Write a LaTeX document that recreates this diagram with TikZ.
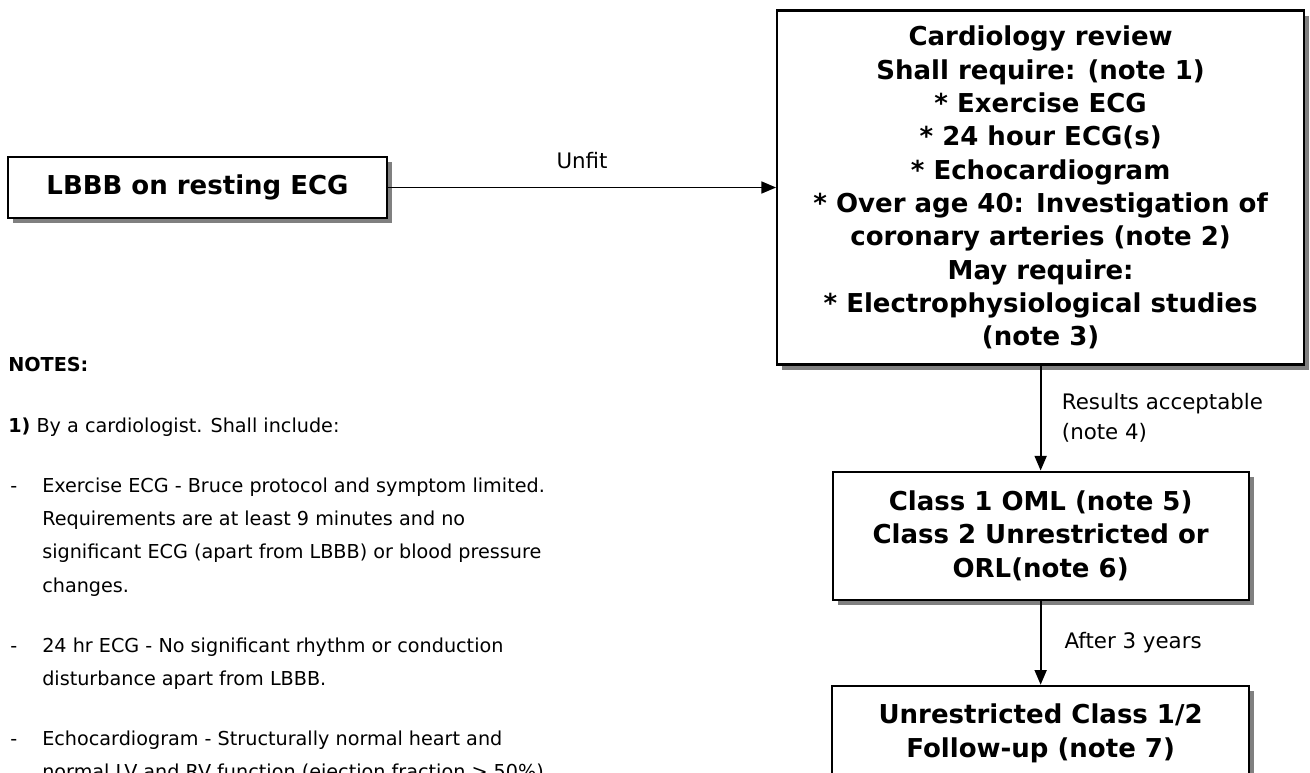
\documentclass[tikz,border=0pt]{standalone}
\usepackage{fontspec}
\setmainfont{DejaVu Sans}
\usetikzlibrary{arrows.meta}
\usetikzlibrary{positioning,shadows}

\newcommand{\boxfont}{\fontsize{19.5pt}{25pt}\selectfont\bfseries}
\newcommand{\notefont}{\fontsize{14.4pt}{24.75pt}\selectfont}
\newcommand{\flowfont}{\fontsize{16pt}{22.5pt}\selectfont}

\tikzset{
  result/.style={draw, line width=1.6pt, fill=white, align=center, font=\boxfont,
    drop shadow={shadow xshift=3.75pt, shadow yshift=-3.75pt, fill=black!50, opacity=1}},
  flow/.style={-{Triangle[length=11pt,width=9pt]}, line width=1.3pt},
  note/.style={anchor=west, inner sep=0pt, font=\notefont, text height=11pt, text depth=3.5pt},
}

\begin{document}
\begin{tikzpicture}[x=0.75pt,y=-0.75pt, every node/.append style={font=\flowfont}]
\clip (0,0) rectangle (1310,772);

\node[result, minimum width=284.25pt, minimum height=45.75pt] (lbbb) at (197.5,187.5) {LBBB on resting ECG};
\node[result, right=291pt of lbbb, minimum width=395.25pt, minimum height=265.5pt] (review) {
  Cardiology review\\
  Shall require: (note 1)\\
  * Exercise ECG\\
  * 24 hour ECG(s)\\
  * Echocardiogram\\
  * Over age 40: Investigation of\\
  coronary arteries (note 2)\\
  May require:\\
  * Electrophysiological studies\\
  (note 3)
};
\node[result, below=78.75pt of review, minimum width=312pt, minimum height=96pt] (class) {
  Class 1 OML (note 5)\\
  Class 2 Unrestricted or\\
  ORL(note 6)
};
\node[result, below=63pt of class, minimum width=312.75pt, minimum height=71.25pt] (unrestricted) {
  Unrestricted Class 1/2\\
  Follow-up (note 7)
};

\draw[flow] (lbbb) -- (review) node[midway, yshift=20pt] (unfit) {Unfit};
\draw[flow] (review) -- (class) node[midway, right=12pt, align=left] (accept) {Results acceptable\\(note 4)};
\draw[flow] (class) -- (unrestricted) node[midway, right=14pt] (after) {After 3 years};

% notes
\node[note, font=\notefont\bfseries] (notes) at (8,366) {NOTES:};
\node[note] (note1) at (8,427) {\textbf{1)} By a cardiologist. Shall include:};
\foreach \ty in {487,647,740}
  \node[note] (dash\ty) at (10,\ty) {-};
\foreach \ty/\tx in {487/Exercise ECG - Bruce protocol and symptom limited.,
    520/Requirements are at least 9 minutes and no,
    553/significant ECG (apart from LBBB) or blood pressure,
    587/changes.,
    647/24 hr ECG - No significant rhythm or conduction,
    680/disturbance apart from LBBB.,
    740/Echocardiogram - Structurally normal heart and,
    773/normal LV and RV function (ejection fraction > 50\%)}
  \node[note] (line\ty) at (42,\ty) {\tx};
\end{tikzpicture}
\end{document}
